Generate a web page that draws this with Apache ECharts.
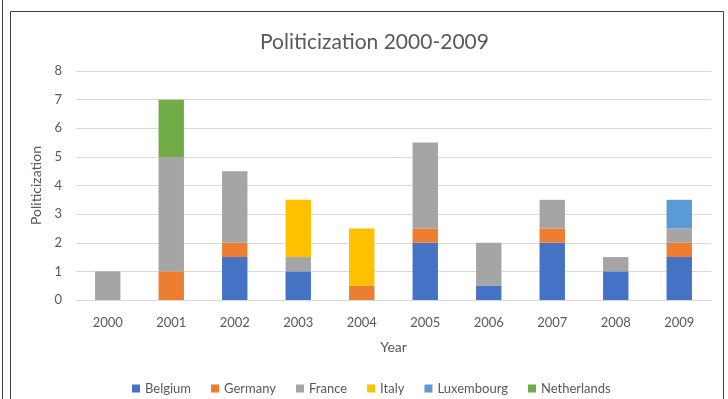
<!DOCTYPE html>
<html><head><meta charset="utf-8">
<script src="https://cdn.jsdelivr.net/npm/echarts@6/dist/echarts.min.js"></script>
<style>html,body{margin:0;padding:0;background:#fff}#c{width:728px;height:399px}</style>
</head><body><div id="c"></div>
<script>
const years = ['2000','2001','2002','2003','2004','2005','2006','2007','2008','2009'];
const belgium     = [0, 0, 1.5, 1, 0, 2, 0.5, 2, 1, 1.5];
const germany     = [0, 1, 0.5, 0, 0.5, 0.5, 0, 0.5, 0, 0.5];
const france      = [1, 4, 2.5, 0.5, 0, 3, 1.5, 1, 0.5, 0.5];
const italy       = [0, 0, 0, 2, 2, 0, 0, 0, 0, 0];
const luxembourg  = [0, 0, 0, 0, 0, 0, 0, 0, 0, 1];
const netherlands = [0, 2, 0, 0, 0, 0, 0, 0, 0, 0];
const seriesNames = ['Belgium','Germany','France','Italy','Luxembourg','Netherlands'];
const seriesData = [belgium, germany, france, italy, luxembourg, netherlands];
const colors = ['#4472C4','#ED7D31','#A5A5A5','#FFC000','#5B9BD5','#70AD47'];
const font = 'Lato, "Open Sans", sans-serif';
const chart = echarts.init(document.getElementById('c'));
chart.setOption({
  animation: false,
  color: colors,
  textStyle: {fontFamily: font},
  title: {text: 'Politicization 2000-2009', left: 255, top: 27,
    textStyle: {fontFamily: font, fontSize: 21, fontWeight: 'normal', color: '#595959'}},
  grid: {left: 76, right: 17, top: 71, bottom: 99},
  legend: {top: 377, left: 127, icon: 'rect', itemWidth: 8, itemHeight: 8, itemGap: 20,
    textStyle: {fontFamily: font, fontSize: 13, color: '#595959'}, data: seriesNames},
  xAxis: {type: 'category', data: years, name: 'Year', nameLocation: 'middle', nameGap: 40,
    nameTextStyle: {fontFamily: font, fontSize: 14, color: '#595959'},
    axisLine: {lineStyle: {color: '#D9D9D9'}}, axisTick: {show: false},
    axisLabel: {fontFamily: font, fontSize: 13, color: '#595959', margin: 16}},
  yAxis: {type: 'value', min: 0, max: 8, interval: 1, name: 'Politicization', nameLocation: 'middle', nameGap: 28,
    nameTextStyle: {fontFamily: font, fontSize: 14, color: '#595959'},
    axisLine: {show: false}, axisTick: {show: false},
    axisLabel: {fontFamily: font, fontSize: 13, color: '#595959', margin: 14},
    splitLine: {lineStyle: {color: '#D9D9D9'}}},
  series: seriesNames.map((n, i) => ({name: n, type: 'bar', stack: 'total', barWidth: '40%',
    data: seriesData[i].map(v => v === 0 ? null : v)})),
  graphic: [
    {type: 'rect', shape: {x: 10.5, y: 11.5, width: 713, height: 400}, style: {fill: 'none', stroke: '#404040', lineWidth: 1}},
    {type: 'line', shape: {x1: 2.5, y1: 0, x2: 2.5, y2: 399}, style: {stroke: '#404040', lineWidth: 1}}
  ]
});
</script></body></html>
